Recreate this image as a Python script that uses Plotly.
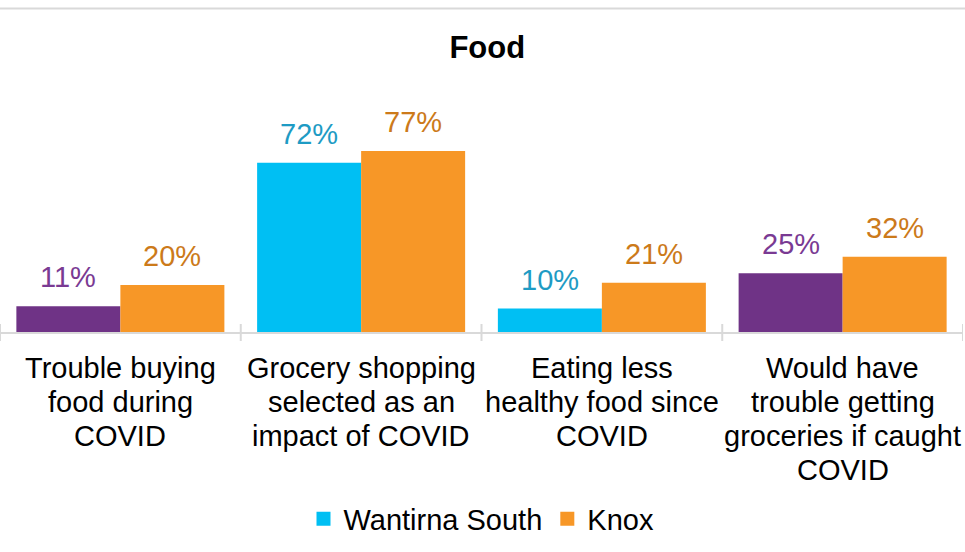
import plotly.graph_objects as go

categories = ["Trouble buying<br>food during<br>COVID",
              "Grocery shopping<br>selected as an<br>impact of COVID",
              "Eating less<br>healthy food since<br>COVID",
              "Would have<br>trouble getting<br>groceries if caught<br>COVID"]
wantirna = [11, 72, 10, 25]
knox = [20, 77, 21, 32]
wantirna_colors = ["#6F3386", "#00BFF3", "#00BFF3", "#6F3386"]
wantirna_label_colors = ["#7A3A93", "#1E9BC4", "#1E9BC4", "#7A3A93"]
knox_color = "#F79727"
knox_label_color = "#CC7A1A"
legend_colors = ["#00BFF3", "#F79727"]

FONT = "Liberation Sans, Arial, sans-serif"
idx = list(range(len(categories)))
PLOT_H = 188.0  # plot area height in px (y range 0..80)

fig = go.Figure()
fig.add_trace(go.Bar(x=idx, y=wantirna, marker=dict(color=wantirna_colors, line=dict(width=0)),
                     showlegend=False, name="Wantirna South"))
fig.add_trace(go.Bar(x=idx, y=knox, marker=dict(color=knox_color, line=dict(width=0)),
                     showlegend=False, name="Knox"))
fig.add_trace(go.Scatter(x=[None], y=[None], mode="markers", name="Wantirna South",
                         marker=dict(symbol="square", size=14, color=legend_colors[0])))
fig.add_trace(go.Scatter(x=[None], y=[None], mode="markers", name="Knox",
                         marker=dict(symbol="square", size=14, color=legend_colors[1])))

annotations = []
for i in idx:
    annotations.append(dict(x=i, y=wantirna[i], xref="x", yref="y", text=f"{wantirna[i]}%",
                            showarrow=False, xshift=-52, yshift=11, yanchor="bottom",
                            font=dict(size=29, color=wantirna_label_colors[i], family=FONT)))
    annotations.append(dict(x=i, y=knox[i], xref="x", yref="y", text=f"{knox[i]}%",
                            showarrow=False, xshift=52, yshift=11, yanchor="bottom",
                            font=dict(size=29, color=knox_label_color, family=FONT)))

# category labels, one annotation per line for Excel-like line spacing
for i, cat in enumerate(categories):
    for j, line in enumerate(cat.split("<br>")):
        annotations.append(dict(x=i, y=-(36 + 34 * j) / PLOT_H, xref="x", yref="paper",
                                text=line, showarrow=False, yanchor="middle", xanchor="center",
                                font=dict(size=29, color="black", family=FONT)))

shapes = [dict(type="line", xref="paper", yref="paper", x0=-0.01, x1=1.01,
               y0=(332 - 8.5) / PLOT_H, y1=(332 - 8.5) / PLOT_H,
               line=dict(color="#D9D9D9", width=2))]
for k in range(len(categories) + 1):
    shapes.append(dict(type="line", xref="x", yref="paper", x0=k - 0.5, x1=k - 0.5,
                       y0=-9 / PLOT_H, y1=8 / PLOT_H, line=dict(color="#D9D9D9", width=2)))

fig.update_layout(
    width=965, height=552,
    margin=dict(l=0, r=2, t=144, b=220, autoexpand=False),
    paper_bgcolor="white", plot_bgcolor="white",
    barmode="group", bargap=0.136, bargroupgap=0,
    title=dict(text="<b>Food</b>", x=0.506, xref="paper", y=1 - 47 / 552, yanchor="middle",
               font=dict(size=31, color="black", family=FONT)),
    xaxis=dict(tickmode="array", tickvals=idx, range=[-0.5, 3.5], showticklabels=False,
               showline=True, linecolor="#D9D9D9", linewidth=2, ticks="", showgrid=False,
               zeroline=False, automargin=False),
    yaxis=dict(range=[0, 80], visible=False, showgrid=False, zeroline=False, automargin=False),
    legend=dict(orientation="h", x=0.5, xanchor="center", y=-(519 - 332) / PLOT_H, yanchor="middle",
                font=dict(size=29, color="black", family=FONT), itemwidth=30),
    annotations=annotations, shapes=shapes,
    showlegend=True,
)
fig.write_html("out.html", config={"displayModeBar": False},
               post_script="document.body.style.margin='0';document.body.style.overflow='hidden';")
